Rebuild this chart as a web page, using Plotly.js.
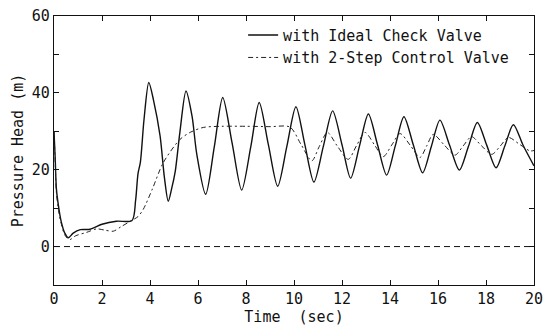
<!DOCTYPE html>
<html>
<head>
<meta charset="utf-8">
<script src="https://cdn.plot.ly/plotly-3.0.1.min.js"></script>
<style>html,body{margin:0;padding:0;background:#fff;}#chart{width:548px;height:328px;}</style>
</head>
<body>
<div id="chart"></div>
<script>
// Time (sec) and pressure head (m)
var tIdeal = [0,0.05,0.1,0.2,0.3,0.45,0.6,0.8,1.1,1.5,2.0,2.6,3.25,3.4,3.5,3.6,3.75,3.95,4.15,4.42,4.6,4.76,4.9,5.05,5.25,5.5,5.75,5.95,6.32,6.68,7.03,7.42,7.82,8.2,8.55,8.93,9.32,9.7,10.08,10.45,10.83,11.22,11.61,12.0,12.36,12.73,13.1,13.48,13.86,14.22,14.58,14.97,15.36,15.72,16.08,16.48,16.89,17.27,17.64,18.03,18.42,18.78,19.14,19.55,20];
var hIdeal = [30,23,15,10,6.5,3.5,2.3,3.5,4.4,4.5,5.8,6.6,6.8,12,19,22,33,42.7,38,28.8,18,11.8,15,19.5,30,40.5,34,24,13.6,26,38.8,27,14.7,26,37.5,26.6,15.7,26,36.4,26.6,16.8,26,35.3,26.5,17.8,26.2,34.5,26.5,18.6,26.2,33.8,26.5,19.2,26,32.9,26.4,19.9,26.1,32.3,26.4,20.5,26.1,31.7,26.3,21];

var tStep = [0,0.05,0.1,0.2,0.3,0.45,0.65,0.9,1.36,1.78,2.1,2.47,2.8,3.24,3.5,3.72,4.1,4.55,5.25,5.7,6.22,7,8,9,9.83,10.3,10.74,11.05,11.39,11.8,12.26,12.6,12.96,13.35,13.72,14.07,14.42,14.85,15.25,15.53,15.8,16.25,16.71,17.05,17.4,17.8,18.24,18.6,18.93,19.4,19.83,20];
var hStep = [30,22,14,9,6,3,1.8,2.8,3.7,4.6,4.3,4.0,5.2,6.8,7.8,9.7,15,21.8,27.9,29.8,31,31.3,31.3,31.2,31.1,26.5,22.3,26,29.7,26.2,22.7,26.2,29.7,26.5,23.4,26.4,29.4,26.3,23.2,26.2,29.2,26.5,23.8,26.2,28.6,26.3,24,26.2,28.4,26.6,24.9,25];

var seriesNames = ['with Ideal Check Valve', 'with 2-Step Control Valve'];
var xTicks = [0,2,4,6,8,10,12,14,16,18,20];
var yTickVals = [-10,0,10,20,30,40,50,60];
var yTickText = ['','0','','20','','40','','60'];

var fontMono = 'DejaVu Sans Mono, Liberation Mono, monospace';

var traces = [
  {x: tIdeal, y: hIdeal, name: seriesNames[0], mode: 'lines',
   line: {color: '#111', width: 1.4, shape: 'spline', smoothing: 0.8}},
  {x: tStep, y: hStep, name: seriesNames[1], mode: 'lines',
   line: {color: '#222', width: 1, dash: '5px,3px,2px,3px', shape: 'spline', smoothing: 0.8}}
];

var layout = {
  width: 548, height: 328,
  margin: {l: 54, r: 14, t: 16, b: 43},
  paper_bgcolor: '#fff', plot_bgcolor: '#fff',
  showlegend: true,
  legend: {x: 0.394, y: 0.99, xanchor: 'left', yanchor: 'top',
    bgcolor: 'rgba(0,0,0,0)', borderwidth: 0,
    font: {family: fontMono, size: 15, color: '#111'}, tracegroupgap: 0},
  xaxis: {range: [0, 20], tickvals: xTicks, ticks: 'inside', ticklen: 5, tickcolor: '#111',
    showline: true, linecolor: '#111', linewidth: 1.2, mirror: 'ticks',
    showgrid: false, zeroline: false,
    tickfont: {family: fontMono, size: 15, color: '#111'},
    title: {text: 'Time  (sec)', font: {family: fontMono, size: 15, color: '#111'}, standoff: 0}},
  yaxis: {range: [-10, 60], tickvals: yTickVals, ticktext: yTickText, ticks: 'inside', ticklen: 5, tickcolor: '#111',
    showline: true, linecolor: '#111', linewidth: 1.2, mirror: 'ticks',
    showgrid: false, zeroline: false,
    tickfont: {family: fontMono, size: 15, color: '#111'},
    title: {text: 'Pressure Head (m)', font: {family: fontMono, size: 15, color: '#111'}, standoff: 4}},
  shapes: [{type: 'line', xref: 'paper', x0: 0, x1: 1, yref: 'y', y0: 0, y1: 0,
    line: {color: '#111', width: 1, dash: '6px,4px'}}]
};

Plotly.newPlot('chart', traces, layout, {displayModeBar: false, staticPlot: true});
</script>
</body>
</html>
